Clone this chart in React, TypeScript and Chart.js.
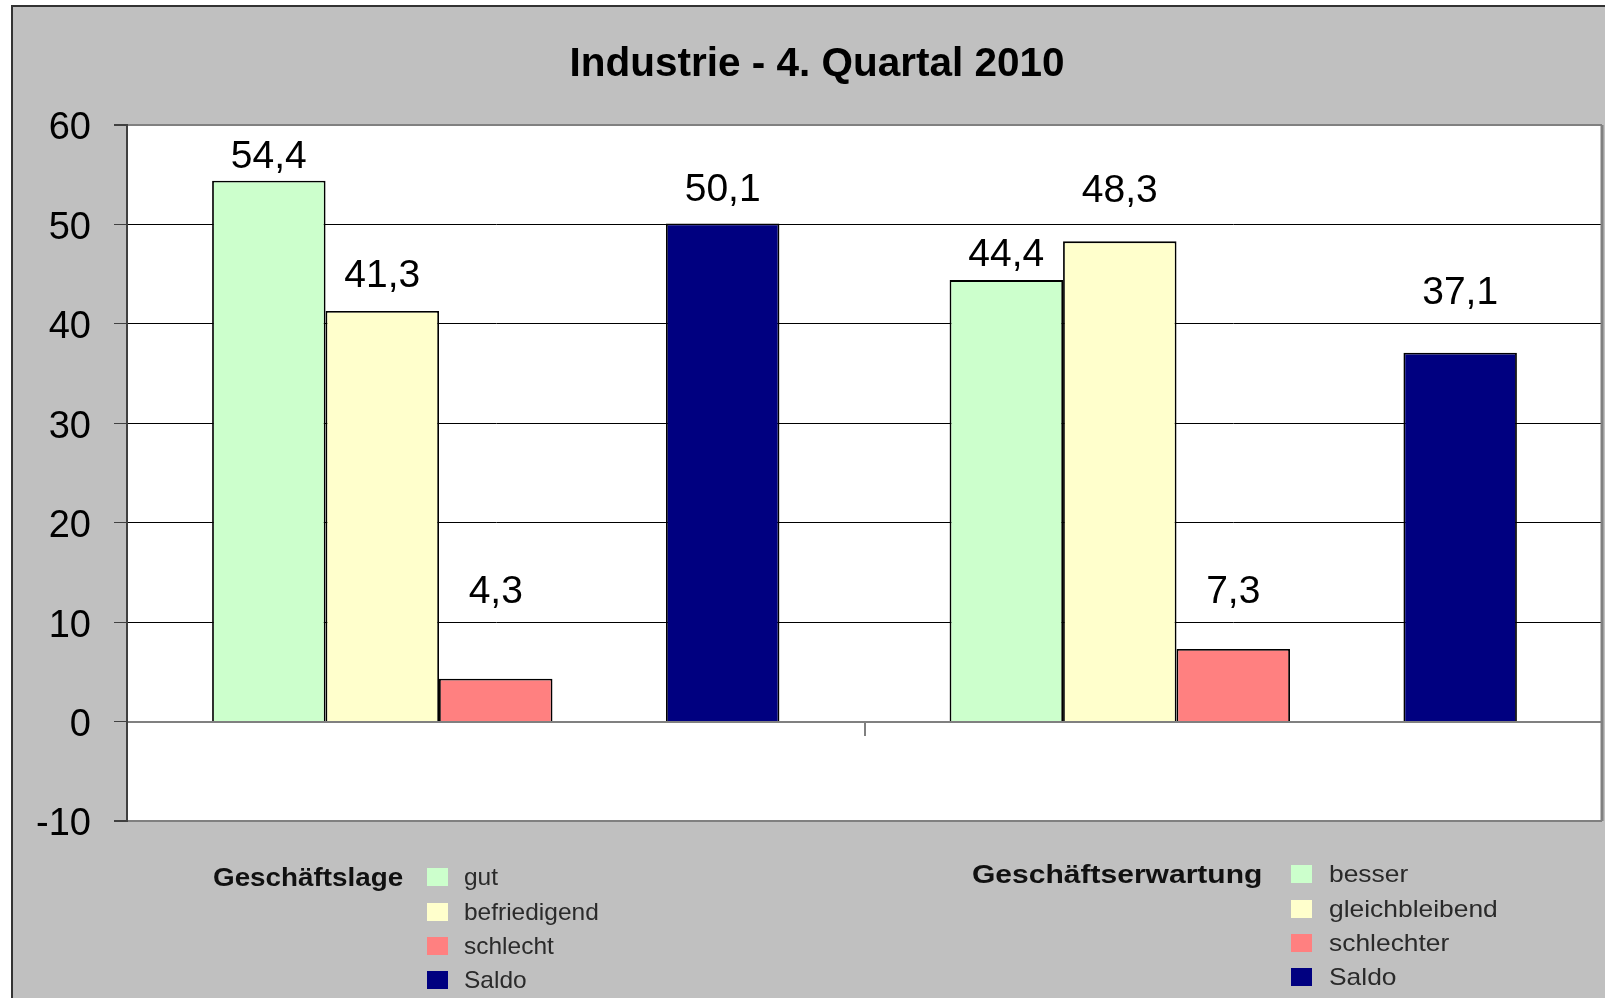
import React, { useEffect, useRef } from "react";
import { Chart, registerables } from "chart.js";

Chart.register(...registerables);

// ---- data ----
const categories = ["Geschäftslage", "Geschäftserwartung"];
const positiveValues = [54.4, 44.4]; // gut / besser
const neutralValues = [41.3, 48.3]; // befriedigend / gleichbleibend
const negativeValues = [4.3, 7.3]; // schlecht / schlechter
const saldoValues = [50.1, 37.1];

// value-axis level at which each data label is placed
const positiveLabelAt = [57.1, 47.2];
const neutralLabelAt = [45.1, 53.6];
const negativeLabelAt = [13.3, 13.3];
const saldoLabelAt = [53.7, 43.4];

const yTicks = [-10, 0, 10, 20, 30, 40, 50, 60];

const titleText = "Industrie - 4. Quartal 2010";
const lageLabels = ["gut", "befriedigend", "schlecht", "Saldo"];
const erwartungLabels = ["besser", "gleichbleibend", "schlechter", "Saldo"];

const colors = ["#CCFFCC", "#FFFFCC", "#FF8080", "#000080"];
const FONT = "'Liberation Sans', Arial, sans-serif";

const fmt = (v: number) => v.toFixed(1).replace(".", ",");

export default function App() {
  const canvasRef = useRef<HTMLCanvasElement | null>(null);

  useEffect(() => {
    const canvas = canvasRef.current;
    if (!canvas) return;

    const labelLevels: (number[] | null)[] = [
      positiveLabelAt,
      neutralLabelAt,
      negativeLabelAt,
      null,
      saldoLabelAt,
    ];

    const plotBg = {
      id: "plotBg",
      beforeDraw(chart: any) {
        const { ctx, chartArea } = chart;
        ctx.save();
        ctx.fillStyle = "#FFFFFF";
        ctx.fillRect(chartArea.left, chartArea.top, chartArea.right - chartArea.left, chartArea.bottom - chartArea.top);
        ctx.restore();
      },
      afterDraw(chart: any) {
        const { ctx, chartArea } = chart;
        ctx.save();
        ctx.strokeStyle = "#808080";
        ctx.lineWidth = 3;
        ctx.beginPath();
        ctx.moveTo(chartArea.right, chartArea.top);
        ctx.lineTo(chartArea.right, chartArea.bottom);
        ctx.stroke();
        ctx.restore();
      },
    };

    const dataLabels = {
      id: "dataLabels",
      afterDatasetsDraw(chart: any) {
        const { ctx } = chart;
        const yScale = chart.scales.y;
        ctx.save();
        ctx.font = `39px ${FONT}`;
        ctx.fillStyle = "#000";
        ctx.textAlign = "center";
        ctx.textBaseline = "middle";
        chart.data.datasets.forEach((ds: any, i: number) => {
          const levels = labelLevels[i];
          if (!levels) return;
          const meta = chart.getDatasetMeta(i);
          meta.data.forEach((bar: any, j: number) => {
            const v = ds.data[j];
            if (v == null) return;
            ctx.fillText(fmt(v), bar.x, yScale.getPixelForValue(levels[j]) + 3);
          });
        });
        ctx.restore();
      },
    };

    const chart = new Chart(canvas, {
      type: "bar",
      data: {
        labels: categories,
        datasets: [
          { label: "gut / besser", data: positiveValues, backgroundColor: colors[0] },
          { label: "befriedigend / gleichbleibend", data: neutralValues, backgroundColor: colors[1] },
          { label: "schlecht / schlechter", data: negativeValues, backgroundColor: colors[2] },
          { label: "", data: [null, null], backgroundColor: "transparent" },
          { label: "Saldo", data: saldoValues, backgroundColor: colors[3] },
        ].map((d) => ({
          ...d,
          borderColor: "#000000",
          borderWidth: 1.8,
          categoryPercentage: 5 / 6.5,
          barPercentage: 1,
        })) as any,
      },
      options: {
        responsive: false,
        animation: false,
        devicePixelRatio: 1,
        layout: { padding: { left: 32, top: 0, right: 32, bottom: 177 } },
        plugins: {
          legend: { display: false },
          tooltip: { enabled: false },
          title: {
            display: true,
            text: titleText,
            color: "#000",
            font: { family: FONT, size: 40.5, weight: "bold", lineHeight: 1.2 },
            padding: { top: 41, bottom: 35.4 },
          },
        },
        scales: {
          x: {
            position: { y: 0 } as any,
            ticks: { display: false },
            grid: {
              display: true,
              offset: true,
              drawOnChartArea: false,
              drawTicks: true,
              tickLength: 13,
              color: "#808080",
              lineWidth: 2,
            },
            border: { display: true, color: "#808080", width: 2 },
          },
          y: {
            min: -10,
            max: 60,
            afterFit: (scale: any) => {
              scale.width = 95;
            },
            afterBuildTicks: (scale: any) => {
              scale.ticks = yTicks.map((v) => ({ value: v }));
            },
            ticks: {
              color: "#000",
              font: { family: FONT, size: 38 },
              padding: 23,
              labelOffset: 4,
              callback: (v: any) => String(v),
            },
            grid: {
              drawTicks: true,
              tickLength: 13,
              tickColor: "#404040",
              color: (ctx: any) => {
                const v = ctx.tick ? ctx.tick.value : null;
                return v === 60 || v === -10 || v === 0 ? "#808080" : "#000000";
              },
              lineWidth: (ctx: any) => {
                const v = ctx.tick ? ctx.tick.value : null;
                return v === 60 || v === -10 ? 2 : 1;
              },
            },
            border: { display: true, color: "#404040", width: 2 },
          },
        },
      },
      plugins: [plotBg, dataLabels],
    });

    return () => chart.destroy();
  }, []);

  const legendGroups = [
    { title: categories[0], labels: lageLabels, titleX: 213, boxX: 427, textX: 464, rows: [877, 911.5, 945.5, 980], titleScale: 1.07, itemScale: 1.02 },
    { title: categories[1], labels: erwartungLabels, titleX: 972, boxX: 1291, textX: 1329, rows: [874, 909, 943, 977], titleScale: 1.155, itemScale: 1.1 },
  ];

  return (
    <div
      style={{
        position: "fixed",
        left: 0,
        top: 0,
        width: 1605,
        height: 998,
        overflow: "hidden",
        background: "#FFFFFF",
        fontFamily: FONT,
      }}
    >
      <div
        style={{
          position: "absolute",
          left: 11,
          top: 5,
          width: 1700,
          height: 1100,
          background: "#C0C0C0",
          borderLeft: "2px solid #333",
          borderTop: "2px solid #333",
        }}
      />
      <canvas
        ref={canvasRef}
        width={1634}
        height={998}
        style={{ position: "absolute", left: 0, top: 0, width: 1634, height: 998 }}
      />
      {legendGroups.map((g, gi) => (
        <React.Fragment key={gi}>
          <div
            style={{
              position: "absolute",
              left: g.titleX,
              top: g.rows[0] - 15,
              height: 30,
              lineHeight: "30px",
              fontSize: 26,
              fontWeight: "bold",
              color: "#111",
              whiteSpace: "nowrap",
              transform: `scaleX(${g.titleScale})`,
              transformOrigin: "left center",
            }}
          >
            {g.title}
          </div>
          {g.labels.map((lab, i) => (
            <React.Fragment key={i}>
              <div
                style={{
                  position: "absolute",
                  left: g.boxX,
                  top: g.rows[i] - 9,
                  width: 21,
                  height: 18,
                  background: colors[i],
                }}
              />
              <div
                style={{
                  position: "absolute",
                  left: g.textX,
                  top: g.rows[i] - 15,
                  height: 30,
                  lineHeight: "30px",
                  fontSize: 24,
                  color: "#2a2a2a",
                  whiteSpace: "nowrap",
                  transform: `scaleX(${g.itemScale})`,
                  transformOrigin: "left center",
                }}
              >
                {lab}
              </div>
            </React.Fragment>
          ))}
        </React.Fragment>
      ))}
    </div>
  );
}
